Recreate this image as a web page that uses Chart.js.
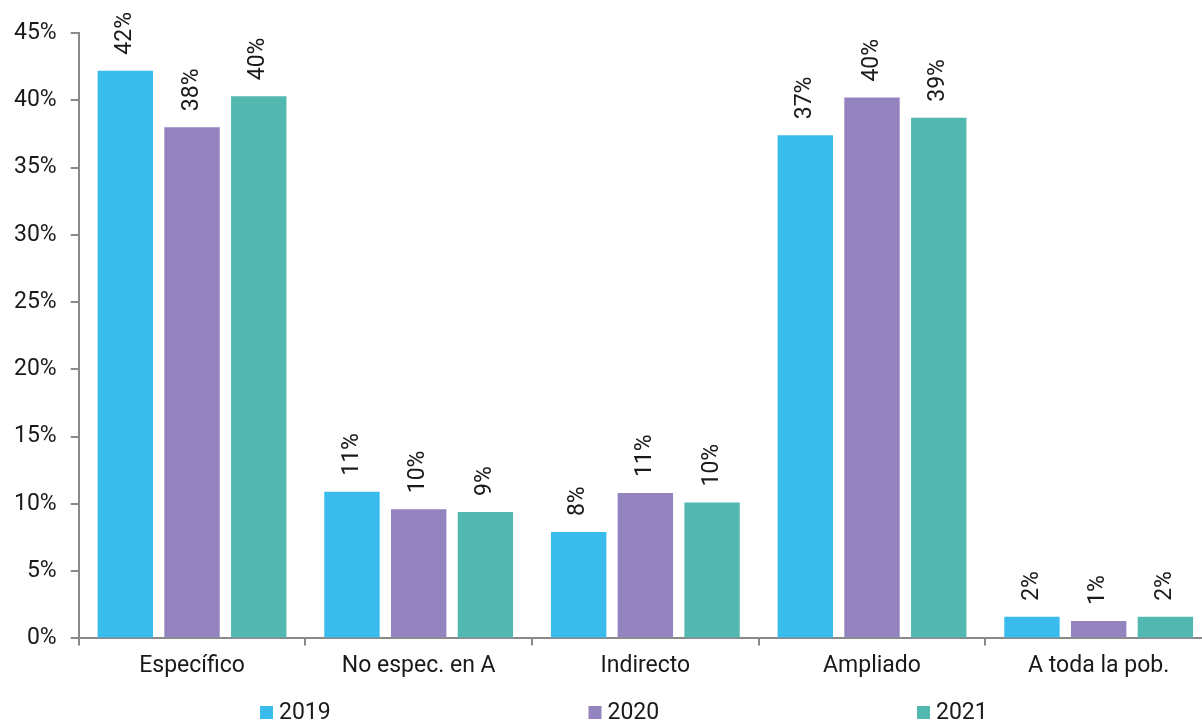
<!DOCTYPE html>
<html>
<head>
<meta charset="utf-8">
<script src="https://cdn.jsdelivr.net/npm/chart.js@4"></script>
<style>
  html, body { margin: 0; padding: 0; background: #fff; overflow: hidden; }
  /* plot area runs slightly past the right edge in the original */
  #wrap { width: 1212px; height: 723px; }
</style>
</head>
<body>
<div id="wrap"><canvas id="chart"></canvas></div>
<script>
// Data
const categories = ['Específico', 'No espec. en A', 'Indirecto', 'Ampliado', 'A toda la pob.'];
const years = ['2019', '2020', '2021'];
const values2019 = [42.2, 10.9, 7.9, 37.4, 1.6];
const values2020 = [38.0, 9.6, 10.8, 40.2, 1.3];
const values2021 = [40.3, 9.4, 10.1, 38.7, 1.6];
const yTicks = [0, 5, 10, 15, 20, 25, 30, 35, 40, 45];

const colors = ['#39bbeb', '#9383be', '#52b8b0'];
const FONT = 'Roboto, "Liberation Sans", sans-serif';
const FSIZE = 23;

// Rotated value labels above each bar
const barLabels = {
    id: 'barLabels',
    afterDatasetsDraw(chart) {
        const ctx = chart.ctx;
        ctx.save();
        ctx.font = FSIZE + 'px ' + FONT;
        ctx.fillStyle = '#1a1a1a';
        ctx.textAlign = 'left';
        ctx.textBaseline = 'middle';
        chart.data.datasets.forEach((ds, i) => {
            chart.getDatasetMeta(i).data.forEach((bar, j) => {
                ctx.save();
                ctx.translate(bar.x, bar.y - 16);
                ctx.rotate(-Math.PI / 2);
                ctx.fillText(Math.round(ds.data[j]) + '%', 0, 0);
                ctx.restore();
            });
        });
        ctx.restore();
    }
};

// Wide-spaced legend at the bottom
const bottomLegend = {
    id: 'bottomLegend',
    afterDraw(chart) {
        const ctx = chart.ctx;
        ctx.save();
        ctx.font = FSIZE + 'px ' + FONT;
        ctx.textBaseline = 'middle';
        ctx.textAlign = 'left';
        const y = 712;
        chart.data.datasets.forEach((ds, i) => {
            const x = 260 + i * 328.5;
            ctx.fillStyle = ds.backgroundColor;
            ctx.fillRect(x, y - 6, 13, 13);
            ctx.fillStyle = '#1a1a1a';
            ctx.fillText(ds.label, x + 19, y + 1);
        });
        ctx.restore();
    }
};

const ctx = document.getElementById('chart').getContext('2d');
new Chart(ctx, {
    type: 'bar',
    data: {
        labels: categories,
        datasets: [
            { label: years[0], data: values2019, backgroundColor: colors[0] },
            { label: years[1], data: values2020, backgroundColor: colors[1] },
            { label: years[2], data: values2021, backgroundColor: colors[2] }
        ]
    },
    options: {
        responsive: true,
        maintainAspectRatio: false,
        animation: false,
        categoryPercentage: 0.883,
        barPercentage: 0.83,
        layout: { padding: { top: 33, left: 0, right: 0, bottom: 36 } },
        plugins: {
            legend: { display: false },
            tooltip: { enabled: false }
        },
        scales: {
            x: {
                offset: true,
                grid: { display: true, drawOnChartArea: false, offset: true, tickLength: 7, color: '#8a8a8a', lineWidth: 2 },
                border: { color: '#8a8a8a', width: 2 },
                ticks: { color: '#1a1a1a', font: { family: FONT, size: FSIZE }, padding: 7 }
            },
            y: {
                min: 0,
                max: 45,
                afterBuildTicks: (scale) => { scale.ticks = yTicks.map(v => ({ value: v })); },
                grid: { display: true, drawOnChartArea: false, tickLength: 8, color: '#8a8a8a', lineWidth: 2 },
                border: { color: '#8a8a8a', width: 2 },
                ticks: { color: '#1a1a1a', font: { family: FONT, size: FSIZE }, padding: 14, callback: v => v + '%' }
            }
        }
    },
    plugins: [barLabels, bottomLegend]
});
</script>
</body>
</html>
